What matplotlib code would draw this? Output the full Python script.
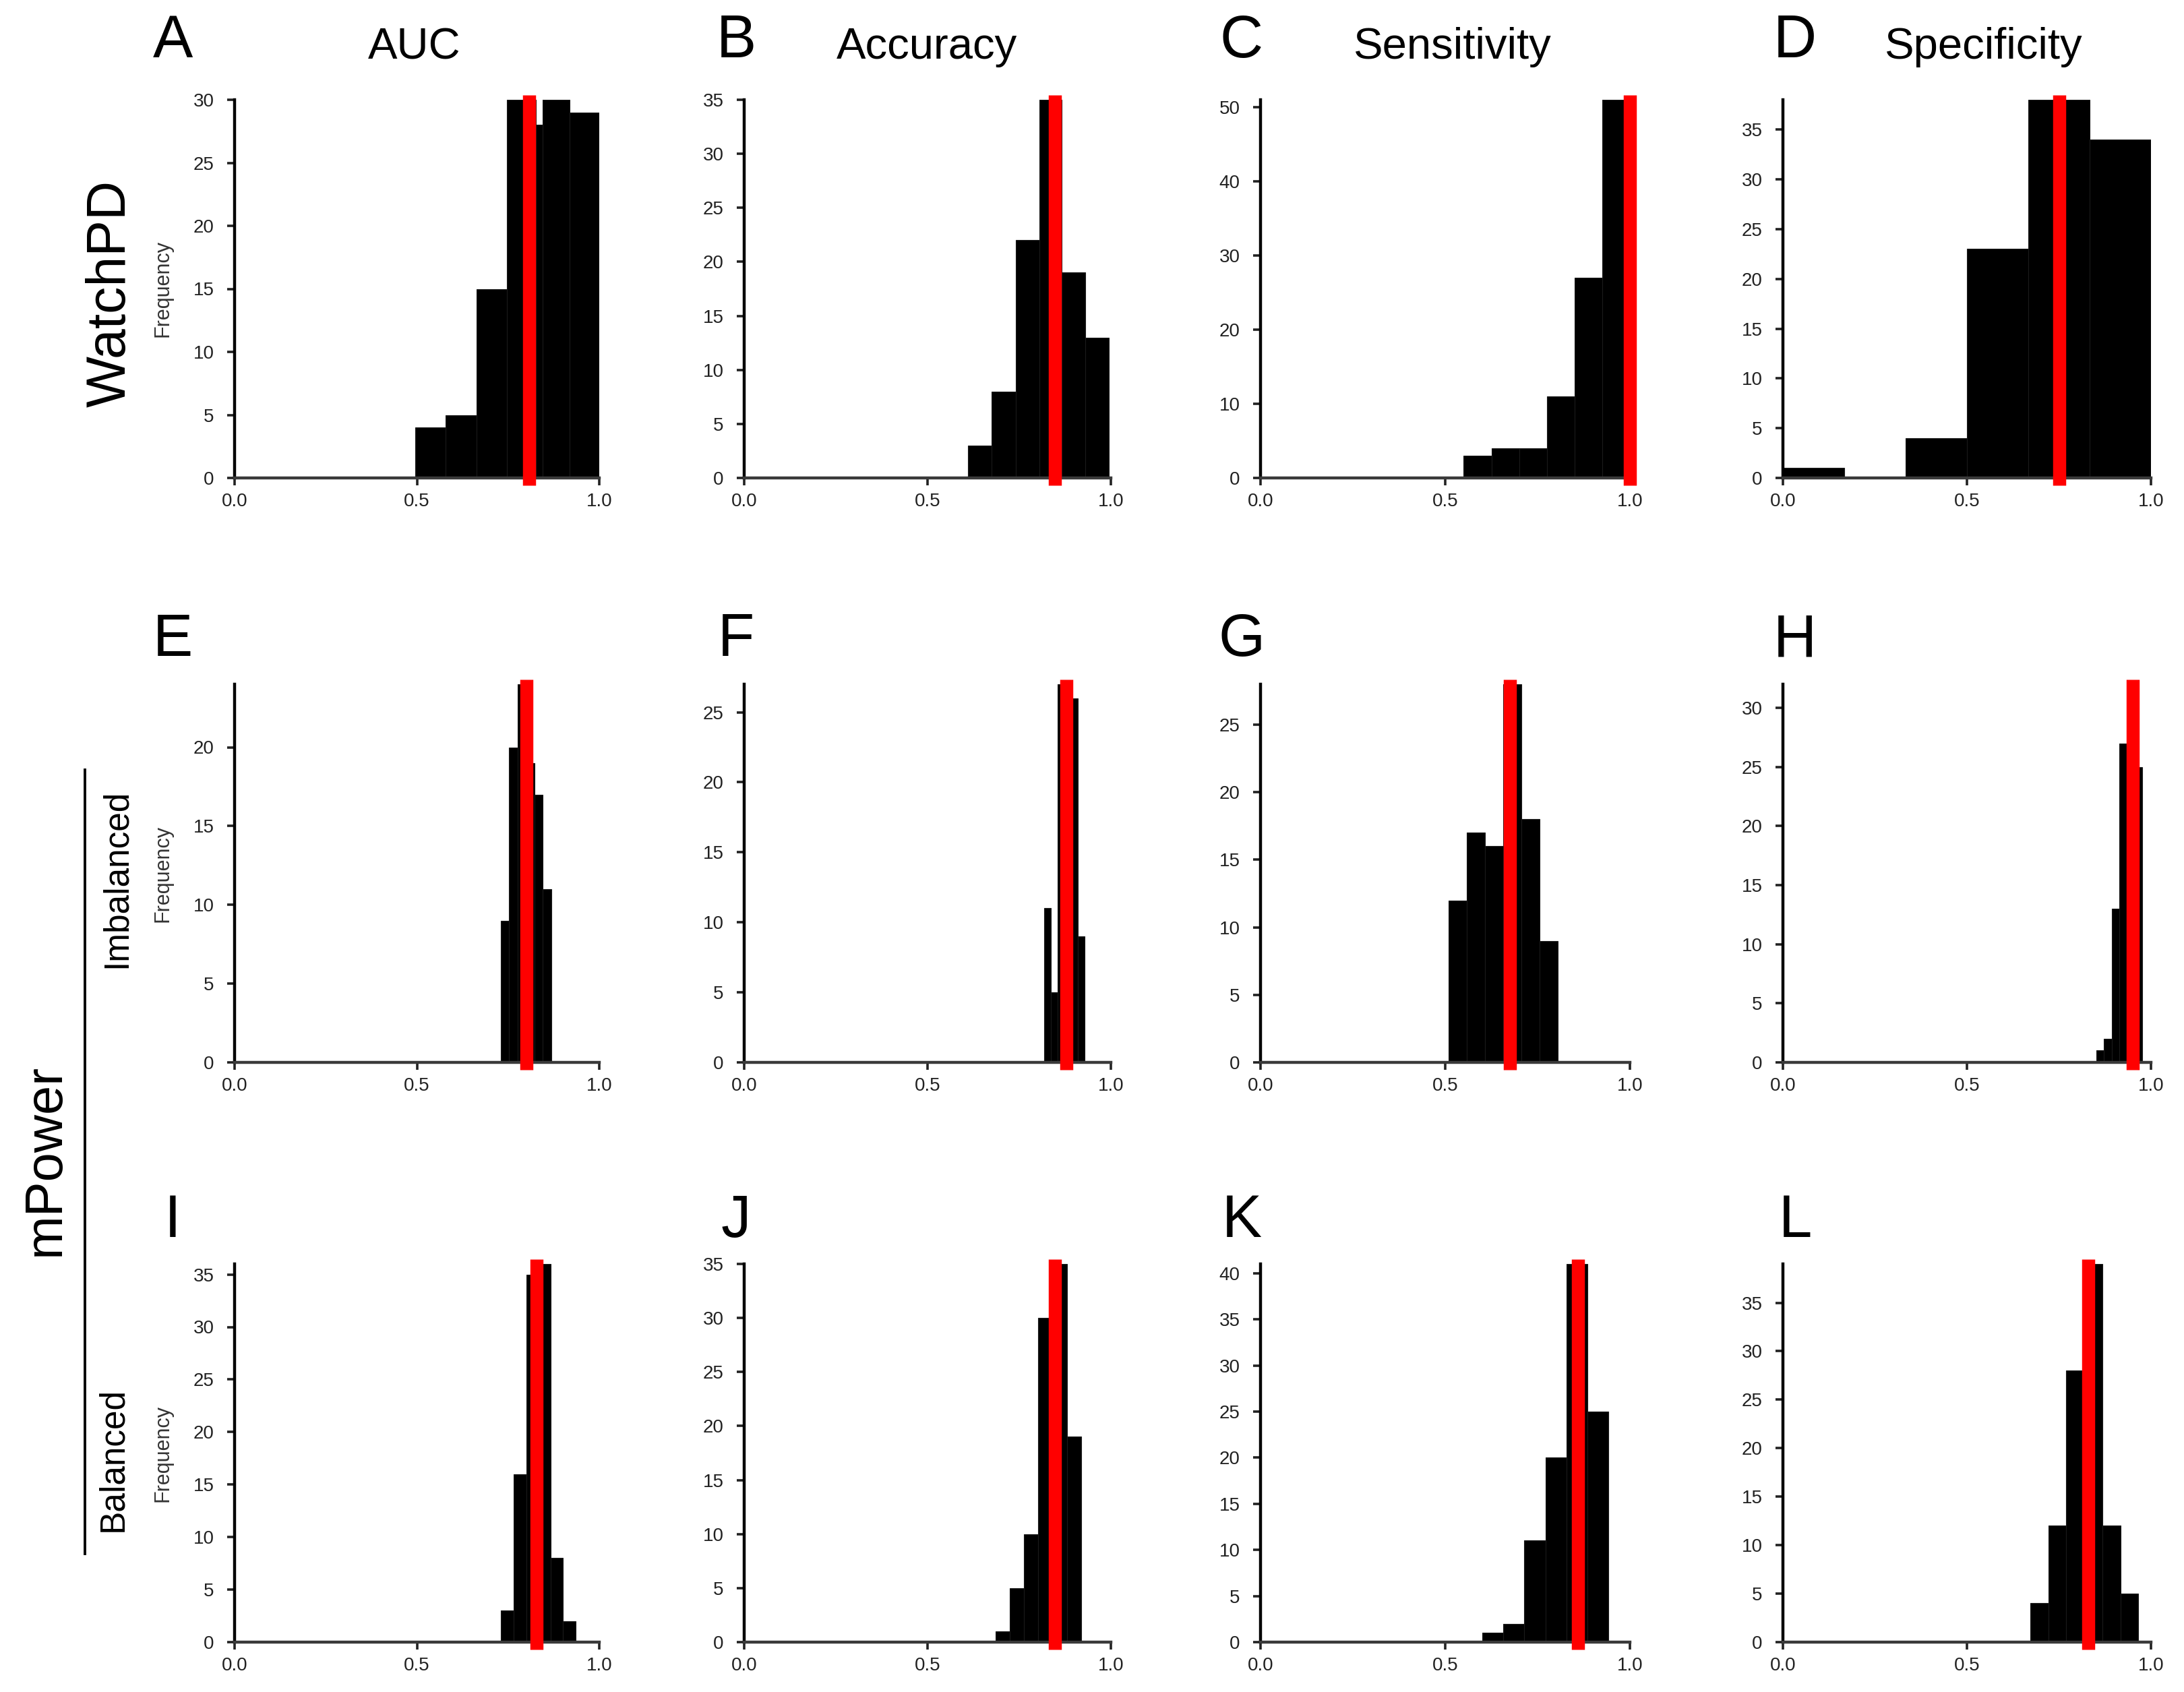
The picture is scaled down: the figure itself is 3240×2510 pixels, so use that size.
import numpy as np
import matplotlib
matplotlib.use('Agg')
import matplotlib.pyplot as plt
from matplotlib.lines import Line2D

plt.rcParams['font.family'] = ['Liberation Sans', 'DejaVu Sans']

# bin edges, counts and the observed value (red line) for every panel
edges_A = [0.496, 0.578, 0.664, 0.747, 0.827, 0.845, 0.918, 1.0]
counts_A = [4, 5, 15, 30, 28, 30, 29]
ref_A = 0.808

edges_B = [0.61, 0.675, 0.74, 0.805, 0.865, 0.93, 0.995]
counts_B = [3, 8, 22, 35, 19, 13]
ref_B = 0.847

edges_C = [0.55, 0.625, 0.70, 0.775, 0.85, 0.925, 1.0]
counts_C = [3, 4, 4, 11, 27, 51]
ref_C = 1.0

edges_D = [0.0, 0.167, 0.333, 0.5, 0.667, 0.833, 1.0]
counts_D = [1, 0, 4, 23, 38, 34]
ref_D = 0.75

edges_E = [0.73, 0.753, 0.776, 0.799, 0.822, 0.845, 0.868]
counts_E = [9, 20, 24, 19, 17, 11]
ref_E = 0.80

edges_F = [0.818, 0.8365, 0.855, 0.8735, 0.892, 0.9105, 0.929]
counts_F = [11, 5, 27, 22, 26, 9]
ref_F = 0.878

edges_G = [0.51, 0.559, 0.608, 0.657, 0.706, 0.755, 0.804]
counts_G = [12, 17, 16, 28, 18, 9]
ref_G = 0.675

edges_H = [0.851, 0.872, 0.893, 0.914, 0.935, 0.956, 0.977]
counts_H = [1, 2, 13, 27, 32, 25]
ref_H = 0.95

edges_I = [0.73, 0.765, 0.80, 0.833, 0.866, 0.90, 0.935]
counts_I = [3, 16, 35, 36, 8, 2]
ref_I = 0.828

edges_J = [0.685, 0.724, 0.763, 0.802, 0.841, 0.880, 0.919]
counts_J = [1, 5, 10, 30, 35, 19]
ref_J = 0.848

edges_K = [0.60, 0.657, 0.714, 0.771, 0.828, 0.885, 0.942]
counts_K = [1, 2, 11, 20, 41, 25]
ref_K = 0.86

edges_L = [0.672, 0.721, 0.770, 0.819, 0.868, 0.917, 0.966]
counts_L = [4, 12, 28, 39, 12, 5]
ref_L = 0.83

letters = ['A', 'B', 'C', 'D', 'E', 'F', 'G', 'H', 'I', 'J', 'K', 'L']
metrics = ['AUC', 'Accuracy', 'Sensitivity', 'Specificity']
ytick_steps = [5, 5, 10, 5, 5, 5, 5, 5, 5, 5, 5, 5]

panels = [
    (edges_A, counts_A, ref_A), (edges_B, counts_B, ref_B),
    (edges_C, counts_C, ref_C), (edges_D, counts_D, ref_D),
    (edges_E, counts_E, ref_E), (edges_F, counts_F, ref_F),
    (edges_G, counts_G, ref_G), (edges_H, counts_H, ref_H),
    (edges_I, counts_I, ref_I), (edges_J, counts_J, ref_J),
    (edges_K, counts_K, ref_K), (edges_L, counts_L, ref_L),
]

W, H = 3240, 2510
DPI = 200
fig = plt.figure(figsize=(W / DPI, H / DPI), dpi=DPI)

col_left = [348, 1104, 1870, 2645]
col_right = [889, 1648, 2418, 3191]
row_bottom = [709, 1576, 2436]
ax_h = 561
letter_x = [256, 1092, 1842, 2663]
letter_y = [62, 950, 1812]
title_x = [615, 1375, 2155, 2943]


def fx(px):
    return px / W


def fy(py):
    return 1 - py / H


for i, (edges, counts, ref) in enumerate(panels):
    r, c = divmod(i, 4)
    left = col_left[c]
    width = col_right[c] - left
    bottom = row_bottom[r]
    ax = fig.add_axes([fx(left), fy(bottom), width / W, ax_h / H])

    edges = np.array(edges)
    ax.bar(edges[:-1], counts, width=np.diff(edges), align='edge',
           color='black', edgecolor='#1a1a1a', linewidth=0.4)
    ymax = max(counts)
    ax.axvline(ref, ymin=-0.02, ymax=1.012, color='#ff0000', lw=7,
               clip_on=False, solid_capstyle='butt', zorder=5)

    ax.set_xlim(0, 1.0)
    ax.set_ylim(0, ymax)
    ax.set_xticks([0.0, 0.5, 1.0])
    ax.set_xticklabels(['0.0', '0.5', '1.0'])
    step = ytick_steps[i]
    ax.set_yticks(np.arange(0, ymax + 0.01, step))

    for s in ['top', 'right']:
        ax.spines[s].set_visible(False)
    ax.spines['left'].set_linewidth(1.6)
    ax.spines['left'].set_color('black')
    ax.spines['bottom'].set_linewidth(1.6)
    ax.spines['bottom'].set_color('#3a3a3a')
    ax.tick_params(axis='both', direction='out', length=4, width=1.3,
                   labelsize=10, colors='#222222', pad=4)
    ax.tick_params(axis='y', pad=7)

    if c == 0:
        ax.set_ylabel('Frequency', fontsize=11, color='#333333')
        ax.yaxis.set_label_coords(-0.17, 0.5)

    fig.text(fx(letter_x[c]), fy(letter_y[r]), letters[i], fontsize=32,
             ha='center', va='center')

for c, name in enumerate(metrics):
    fig.text(fx(title_x[c]), fy(70), name, fontsize=23.5,
             ha='center', va='center')

# row group labels
fig.text(fx(165), fy(435), 'WatchPD', fontsize=29, rotation=90,
         ha='center', va='center')
fig.text(fx(173), fy(1303), 'Imbalanced', fontsize=18.5, rotation=90,
         ha='center', va='center')
fig.text(fx(168), fy(2165), 'Balanced', fontsize=18.5, rotation=90,
         ha='center', va='center')
fig.text(fx(67), fy(1720), 'mPower', fontsize=28, rotation=90,
         ha='center', va='center')
fig.add_artist(Line2D([fx(126), fx(126)], [fy(1142), fy(2305)],
                      transform=fig.transFigure, color='black', lw=1.4))

plt.savefig('out.png', dpi=DPI)
print('done')
